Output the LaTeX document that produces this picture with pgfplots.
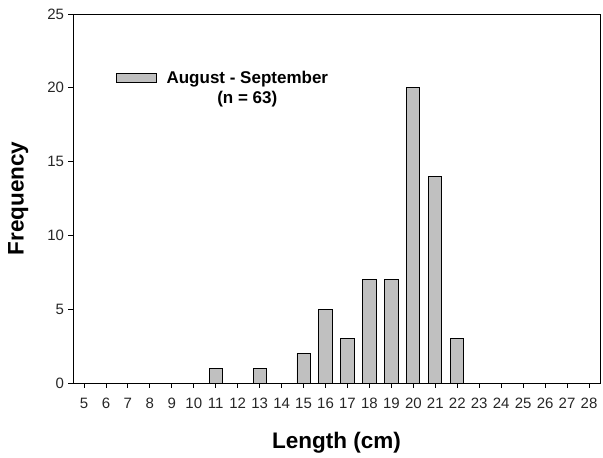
\documentclass[border=0pt]{standalone}
\usepackage{pgfplots}
\pgfplotsset{compat=1.18}
\usepackage{fontspec}
\setmainfont{Liberation Sans}
\begin{document}
\begin{tikzpicture}
\begin{axis}[
  scale only axis,
  width=527pt, height=369pt,
  xmin=4.5, xmax=28.5,
  ymin=0, ymax=25,
  xtick={5,...,28},
  ytick={0,5,...,25},
  tick align=outside,
  major tick length=4.5pt,
  xtick pos=bottom, ytick pos=left,
  axis line style={black, line width=0.9pt},
  tick style={black, line width=0.8pt},
  /pgf/number format/assume math mode=true,
  tick label style={font=\fontsize{15}{17}\selectfont, text=black!85},
  xticklabel style={yshift=-7pt},
  yticklabel style={xshift=-1pt},
  xlabel={\textbf{Length (cm)}},
  ylabel={\textbf{Frequency}},
  label style={font=\fontsize{22.5}{26}\selectfont},
  xlabel style={at={(axis description cs:0.5,-0.163)}, anchor=center},
  ylabel style={at={(axis description cs:-0.104,0.5)}, anchor=center},
  legend style={draw=none, fill=none, at={(axis cs:6.3,21.35)}, anchor=north west,
    font=\fontsize{17}{20}\selectfont, nodes={align=center, inner sep=1pt}},
  legend image code/.code={%
    \draw[black, line width=0.8pt, fill={rgb,255:red,192;green,192;blue,192}] (0pt,5.5pt) rectangle (40pt,14.5pt);
    \path (49pt,10pt);},
]
\addplot[ybar, bar width=0.6, bar shift=0pt, draw=black, line width=0.9pt,
  fill={rgb,255:red,192;green,192;blue,192}]
  coordinates {(11,1) (13,1) (15,2) (16,5) (17,3) (18,7) (19,7) (20,20) (21,14) (22,3)};
\addlegendentry{\textbf{August - September}\\\textbf{(n = 63)}}
\end{axis}
\pgfresetboundingbox
\path ([shift={(-73pt,-75pt)}]current axis.south west) rectangle ([shift={(3pt,14pt)}]current axis.north east);
\end{tikzpicture}
\end{document}
